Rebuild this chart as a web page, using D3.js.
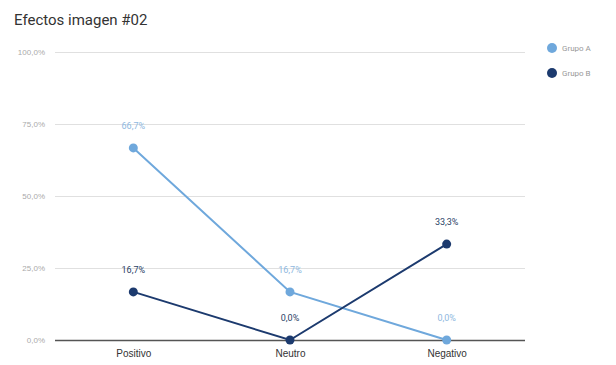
<!DOCTYPE html>
<html><head><meta charset="utf-8">
<script src="https://cdn.jsdelivr.net/npm/d3@7"></script>
<style>body{margin:0;background:#fff;}svg{display:block;font-family:Roboto,"Noto Sans",sans-serif;}</style>
</head><body>
<script>
const categories = ["Positivo", "Neutro", "Negativo"];
const seriesNames = ["Grupo A", "Grupo B"];
const grupoA = [66.7, 16.7, 0.0];
const grupoB = [16.7, 0.0, 33.3];
const yTicks = [0, 25, 50, 75, 100];
const colors = ["#6fa8dc", "#1c3a6e"];
const labelColors = ["#8fb8e0", "#2a3f66"];

const W = 616, H = 365;
const svg = d3.select("body").append("svg").attr("width", W).attr("height", H);
const m = {left: 55, right: 91, top: 52, bottom: 25};
const x = d3.scalePoint().domain(categories).range([m.left, W - m.right]).padding(0.5);
const y = d3.scaleLinear().domain([0, 100]).range([H - m.bottom, m.top]);
const fmt = v => d3.format(".1f")(v).replace(".", ",") + "%";

svg.append("text").attr("x", 14).attr("y", 25).attr("font-size", 15).attr("fill", "#333").text("Efectos imagen #02");

const yAxis = svg.append("g").attr("transform", `translate(${m.left},0)`)
  .call(d3.axisLeft(y).tickValues(yTicks).tickFormat(fmt).tickSize(-(W - m.right - m.left)).tickPadding(10));
yAxis.select(".domain").remove();
yAxis.selectAll(".tick line").attr("stroke", d => d === 0 ? "#555" : "#e0e0e0").attr("stroke-width", d => d === 0 ? 1.3 : 1);
yAxis.selectAll(".tick text").attr("fill", "#aaa").attr("font-size", 8);

const xAxis = svg.append("g").attr("transform", `translate(0,${H - m.bottom})`)
  .call(d3.axisBottom(x).tickSize(0).tickPadding(10));
xAxis.select(".domain").remove();
xAxis.selectAll(".tick text").attr("fill", "#333").attr("font-size", 10);

const series = [grupoA, grupoB];
series.forEach((vals, i) => {
  const pts = categories.map((c, j) => [x(c), y(vals[j]), vals[j]]);
  svg.append("path").attr("d", d3.line()(pts.map(p => [p[0], p[1]])))
    .attr("fill", "none").attr("stroke", colors[i]).attr("stroke-width", 2);
  svg.selectAll(null).data(pts).enter().append("circle")
    .attr("cx", d => d[0]).attr("cy", d => d[1]).attr("r", 4.5).attr("fill", colors[i]);
  svg.selectAll(null).data(pts).enter().append("text")
    .attr("x", d => d[0]).attr("y", d => d[1] - 19).attr("text-anchor", "middle")
    .attr("font-size", 9).attr("fill", labelColors[i]).text(d => fmt(d[2]));
});

const leg = svg.append("g");
seriesNames.forEach((n, i) => {
  leg.append("circle").attr("cx", 552).attr("cy", 48 + i * 25).attr("r", 5).attr("fill", colors[i]);
  leg.append("text").attr("x", 562).attr("y", 51 + i * 25).attr("font-size", 8).attr("fill", "#999").text(n);
});
</script>
</body></html>
